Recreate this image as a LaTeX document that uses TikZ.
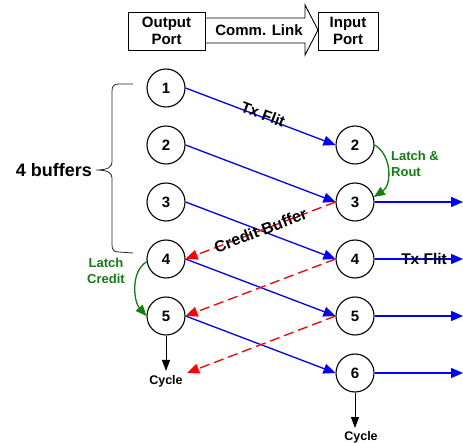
\documentclass[tikz,border=0pt]{standalone}
\usepackage{fontspec}
\setmainfont{Liberation Sans}
\usetikzlibrary{arrows.meta}
\definecolor{latchgreen}{RGB}{16,128,16}
\begin{document}
\begin{tikzpicture}[x=1pt,y=1pt,
  stage/.style={circle,draw,line width=1.1pt,minimum size=38pt,inner sep=0pt,font=\fontsize{15}{18}\selectfont\bfseries},
  port/.style={draw,line width=0.9pt,minimum height=38pt,inner sep=0pt,align=center,font=\fontsize{15}{17}\selectfont\bfseries},
  flit/.style={blue,line width=1.3pt,-{Triangle[length=12pt,width=10pt]}},
  credit/.style={red,line width=1.3pt,dash pattern=on 10pt off 5pt,-{Triangle[length=12pt,width=10pt]}},
  latch/.style={latchgreen,line width=1.3pt,-{Triangle[length=11pt,width=9pt]}},
  cyc/.style={black,line width=1pt,-{Triangle[length=11pt,width=8pt]}},
  lbl/.style={text=black,font=\fontsize{15.5}{17}\selectfont\bfseries,inner sep=0pt},
  glbl/.style={text=latchgreen,font=\fontsize{13}{16}\selectfont\bfseries,inner sep=0pt},
  cyclbl/.style={font=\fontsize{12.5}{15}\selectfont\bfseries,inner sep=0pt}
]
\useasboundingbox (0,0) rectangle (463,-443);

% top link
\node[port,minimum width=77pt] (op) at (166.5,-31) {Output\\Port};
\node[port,minimum width=60pt] (ip) at (348,-31) {Input\\Port};
\draw[line width=0.9pt] (205,-18) -- (305,-18) -- (305,-5) -- (318,-30) -- (305,-55) -- (305,-43) -- (205,-43);
\node[font=\fontsize{15}{17}\selectfont\bfseries,inner sep=0pt] (cl) at (259,-30) {Comm. Link};

% stages
\node[stage] (l1) at (166,-88) {1};
\node[stage] (l2) at (166,-145) {2};
\node[stage] (l3) at (166,-202) {3};
\node[stage] (l4) at (166,-259) {4};
\node[stage] (l5) at (166,-316) {5};
\node[stage] (r2) at (355,-145) {2};
\node[stage] (r3) at (355,-202) {3};
\node[stage] (r4) at (355,-259) {4};
\node[stage] (r5) at (355,-316) {5};
\node[stage] (r6) at (355,-373) {6};

% flits
\draw[flit] (l1.east) -- node[lbl,sloped,pos=0.51,yshift=3pt] (txa) {Tx Flit} (r2.west);
\draw[flit] (l2.east) -- (r3.west);
\draw[flit] (l3.east) -- (r4.west);
\draw[flit] (l4.east) -- (r5.west);
\draw[flit] (l5.east) -- (r6.west);

\coordinate (o3) at (463,-202);
\coordinate (o4) at (463,-259);
\coordinate (o5) at (463,-316);
\coordinate (o6) at (463,-373);
\draw[flit] (r3.east) -- (o3);
\draw[flit] (r4.east) -- node[lbl,pos=0.56] (txb) {Tx Flit} (o4);
\draw[flit] (r5.east) -- (o5);
\draw[flit] (r6.east) -- (o6);

% credits
\coordinate (ce) at (187,-373);
\draw[credit] (r3.west) -- node[lbl,sloped,font=\fontsize{16}{18}\selectfont\bfseries] (cb) {Credit Buffer} (l4.east);
\draw[credit] (r4.west) -- (l5.east);
\draw[credit] (r5.west) -- (ce);

% latches
\draw[latch] (r2.east) .. controls (392,-155) and (392,-185) .. (r3.15);
\node[glbl,align=left,anchor=west] (lr) at (391,-164) {Latch \&\\Rout};
\draw[latch] (l4.188) .. controls (130,-272) and (134,-302) .. (l5.west);
\node[glbl,align=center] (lc) at (106,-271) {Latch\\Credit};

% cycles
\node[cyclbl] (c1) at (166,-381) {Cycle};
\coordinate (c1t) at (166,-371);
\draw[cyc] (l5.south) -- (c1t);
\node[cyclbl] (c2) at (361,-437) {Cycle};
\coordinate (c2t) at (355,-428);
\draw[cyc] (r6.south) -- (c2t);

% brace
\draw[line width=0.8pt,black!85] (133,-84) -- (119,-84) .. controls (114,-84) and (112,-86) .. (112,-91)
  -- (112,-162) .. controls (112,-167) and (108,-170) .. (96,-170)
  .. controls (108,-170) and (112,-173) .. (112,-178)
  -- (112,-245) .. controls (112,-250) and (114,-252) .. (119,-252) -- (133,-253);
\node[font=\fontsize{18}{20}\selectfont\bfseries,anchor=east,inner sep=0pt] (buf) at (92,-170) {4 buffers};
\end{tikzpicture}
\end{document}
